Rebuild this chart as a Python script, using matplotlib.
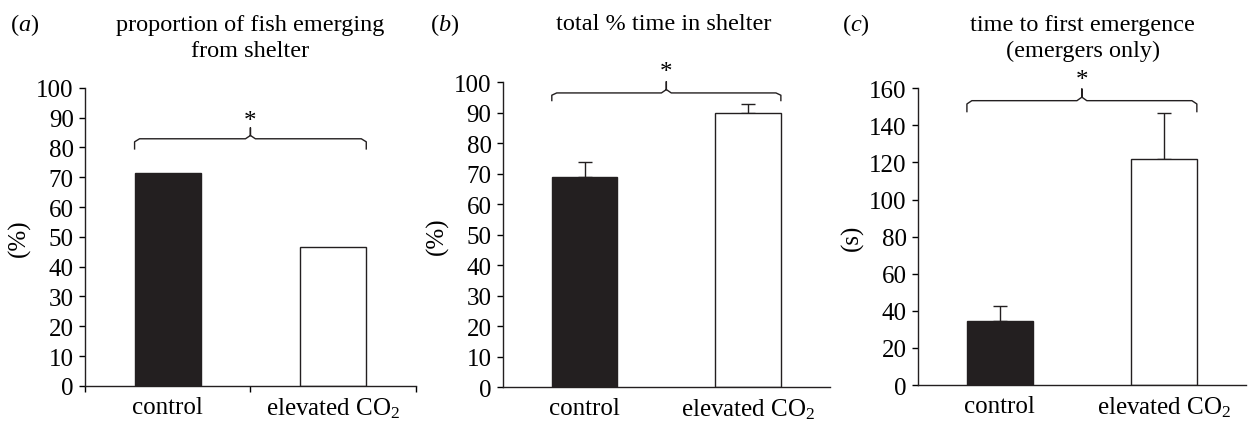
import matplotlib
matplotlib.use("Agg")
import matplotlib.pyplot as plt

plt.rcParams['font.family'] = ['Liberation Serif', 'DejaVu Serif']
plt.rcParams['mathtext.fontset'] = 'custom'
plt.rcParams['mathtext.rm'] = 'Liberation Serif'
plt.rcParams['mathtext.it'] = 'Liberation Serif:italic'
plt.rcParams['font.size'] = 18

groups = ["control", r"elevated CO$_2$"]
colors = ["#231f20", "white"]

# panel values
emerge_pct = [71.5, 46.5]
shelter_pct = [68.9, 89.9]
shelter_err = [5.0, 3.0]
latency_s = [34.3, 121.9]
latency_err = [8.5, 24.6]

titles = ["proportion of fish emerging\nfrom shelter",
          "total % time in shelter",
          "time to first emergence\n(emergers only)"]
ylabels = ["(%)", "(%)", "(s)"]
ylims = [100, 100, 160]
ysteps = [10, 10, 20]
# bracket: (level, arm bottom, peak, star)
brackets = [(82.9, 79.5, 86.6, 89.0),
            (96.5, 94.0, 100.2, 103.5),
            (153.3, 147.4, 159.6, 164.5)]

fig = plt.figure(figsize=(12.49, 4.27), dpi=100)
boxes = [(0.068, 0.094, 0.265, 0.698),
         (0.4025, 0.091, 0.262, 0.714),
         (0.7347, 0.096, 0.263, 0.695)]

values = [emerge_pct, shelter_pct, latency_s]
errors = [None, shelter_err, latency_err]

for i in range(3):
    ax = fig.add_axes(boxes[i])
    x = [0, 1]
    ax.bar(x, values[i], width=0.4, color=colors, edgecolor="#231f20",
           linewidth=1.0, zorder=2)
    if errors[i] is not None:
        ax.errorbar(x, values[i], yerr=[[0, 0], errors[i]], fmt="none",
                    ecolor="#231f20", elinewidth=1.0, capsize=5, capthick=1.0,
                    zorder=1)
    ax.set_xlim(-0.5, 1.5)
    ax.set_ylim(0, ylims[i])
    ax.set_yticks(range(0, ylims[i] + 1, ysteps[i]))
    ax.set_xticks(x)
    ax.set_xticklabels(groups)
    ax.tick_params(axis="x", length=0, pad=7)
    ax.tick_params(axis="y", length=4, width=1.0, pad=4, direction="out")
    if i == 0:
        ax.set_xticks([-0.5, 0.5, 1.5], minor=True)
        ax.tick_params(axis="x", which="minor", length=4, width=1.0)
    for s in ["top", "right"]:
        ax.spines[s].set_visible(False)
    for s in ["left", "bottom"]:
        ax.spines[s].set_linewidth(1.0)
        ax.spines[s].set_color("#231f20")
    ax.spines["left"].set_bounds(0, ylims[i])
    ax.set_ylabel(ylabels[i], labelpad=4)

    # curly bracket over both bars
    lvl, arm, peak, star = brackets[i]
    xl, xr = x[0] - 0.2, x[1] + 0.2
    r = 0.03
    bx = [xl, xl, xl + r, 0.5 - r, 0.5, 0.5, 0.5, 0.5 + r, xr - r, xr, xr]
    by = [arm, lvl - (lvl - arm) * 0.3, lvl, lvl, lvl + (peak - lvl) * 0.3,
          peak, lvl + (peak - lvl) * 0.3, lvl, lvl, lvl - (lvl - arm) * 0.3, arm]
    ax.plot(bx, by, color="#231f20", linewidth=1.0, clip_on=False,
            solid_joinstyle="round")
    ax.text(0.5, star, "*", ha="center", va="center", fontsize=18)

fig.text(0.008, 0.942, r"($\mathit{a}$)", fontsize=17.5, va="center")
fig.text(0.344, 0.942, r"($\mathit{b}$)", fontsize=17.5, va="center")
fig.text(0.674, 0.942, r"($\mathit{c}$)", fontsize=17.5, va="center")
fig.text(0.200, 0.966, titles[0], ha="center", va="top", fontsize=17.5,
         linespacing=1.35)
fig.text(0.531, 0.942, titles[1], ha="center", va="center", fontsize=17.5)
fig.text(0.867, 0.966, titles[2], ha="center", va="top", fontsize=17.5,
         linespacing=1.35)

fig.savefig("out.png", dpi=100)
